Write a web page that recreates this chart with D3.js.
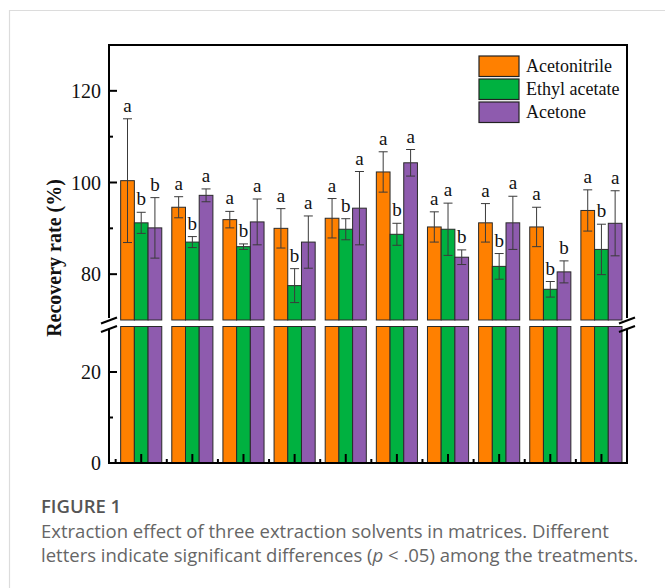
<!DOCTYPE html>
<html>
<head>
<meta charset="utf-8">
<script src="https://cdn.jsdelivr.net/npm/d3@7"></script>
<style>
  html, body { margin: 0; padding: 0; background: #fff; }
  svg { display: block; }
</style>
</head>
<body>
<svg id="chart" width="665" height="588"></svg>
<script>
// ---- data ----
const groups = [1, 2, 3, 4, 5, 6, 7, 8, 9, 10];
const seriesNames = ["Acetonitrile", "Ethyl acetate", "Acetone"];
const acetonitrile    = [100.4, 94.6, 91.9, 90.0, 92.2, 102.3, 90.3, 91.2, 90.3, 93.9];
const acetonitrileErr = [13.5, 2.3, 1.8, 4.3, 4.3, 4.4, 3.3, 4.2, 4.3, 4.5];
const ethylAcetate    = [91.2, 87.0, 86.0, 77.5, 89.8, 88.7, 89.8, 81.7, 76.7, 85.4];
const ethylAcetateErr = [2.3, 1.2, 0.6, 3.7, 2.3, 2.4, 5.7, 2.8, 1.7, 5.5];
const acetone         = [90.1, 97.2, 91.4, 87.0, 94.4, 104.3, 83.7, 91.2, 80.5, 91.1];
const acetoneErr      = [6.6, 1.4, 5.0, 5.7, 8.0, 2.9, 1.6, 5.8, 2.4, 7.1];
const acetonitrileLetters = ["a","a","a","a","a","a","a","a","a","a"];
const ethylAcetateLetters = ["b","b","b","b","b","b","a","b","b","b"];
const acetoneLetters      = ["b","a","a","a","a","a","b","a","b","a"];
const upperTicks = [80, 100, 120];
const upperMinor = [90, 110];
const lowerTicks = [0, 20];
const lowerMinor = [10];
const colors = ["#FF8000", "#00B140", "#8E5BAE"];

(function () {
const values = [acetonitrile, ethylAcetate, acetone];
const errs = [acetonitrileErr, ethylAcetateErr, acetoneErr];
const letters = [acetonitrileLetters, ethylAcetateLetters, acetoneLetters];

const svg = d3.select("#chart");
const serif = "'Liberation Serif', 'Times New Roman', serif";

// card border
svg.append("path").attr("d", "M9.5,588 V10.5 H665")
  .attr("fill", "none").attr("stroke", "#dcdcdc").attr("stroke-width", 1.2);

// scales
const pL = 109, pR = 627, pT = 45, pB = 463;
const x = d3.scaleLinear().domain([0.37, 10.5]).range([pL, pR]);
const yU = d3.scaleLinear().domain([70, 130]).range([320, pT]);
const yL = d3.scaleLinear().domain([0, 30]).range([pB, 326.5]);
const bw = x(1.268) - x(1);

// bars
const g = svg.append("g");
values.forEach((vals, s) => {
  const off = (s - 1) * bw;
  const rows = groups.map((gr, i) => ({ gr, v: vals[i], e: errs[s][i], l: letters[s][i] }));
  g.selectAll(null).data(rows).enter().append("rect")
    .attr("x", d => x(d.gr) + off - bw / 2)
    .attr("width", bw)
    .attr("y", yL(30))
    .attr("height", yL(0) - yL(30))
    .attr("fill", colors[s]).attr("stroke", "#2a2a2a").attr("stroke-width", 1);
  g.selectAll(null).data(rows).enter().append("rect")
    .attr("x", d => x(d.gr) + off - bw / 2)
    .attr("width", bw)
    .attr("y", d => yU(d.v))
    .attr("height", d => yU(70) - yU(d.v))
    .attr("fill", colors[s]).attr("stroke", "#2a2a2a").attr("stroke-width", 1);
  const eb = g.selectAll(null).data(rows).enter().append("g")
    .attr("stroke", "#3a3a3a").attr("stroke-width", 1);
  eb.append("line")
    .attr("x1", d => x(d.gr) + off).attr("x2", d => x(d.gr) + off)
    .attr("y1", d => yU(d.v + d.e)).attr("y2", d => yU(d.v - d.e));
  eb.append("line")
    .attr("x1", d => x(d.gr) + off - 4.5).attr("x2", d => x(d.gr) + off + 4.5)
    .attr("y1", d => yU(d.v + d.e)).attr("y2", d => yU(d.v + d.e));
  eb.append("line")
    .attr("x1", d => x(d.gr) + off - 4.5).attr("x2", d => x(d.gr) + off + 4.5)
    .attr("y1", d => yU(d.v - d.e)).attr("y2", d => yU(d.v - d.e));
  g.selectAll(null).data(rows).enter().append("text")
    .attr("x", d => x(d.gr) + off)
    .attr("y", d => yU(d.v + d.e) - 7)
    .attr("text-anchor", "middle")
    .attr("font-family", serif).attr("font-size", 19).attr("fill", "#111")
    .text(d => d.l);
});

// frame / axes
const ax = svg.append("g").attr("stroke", "#000").attr("stroke-width", 2).attr("fill", "none");
ax.append("line").attr("x1", pL).attr("x2", pR).attr("y1", pT).attr("y2", pT);
ax.append("line").attr("x1", pL).attr("x2", pR + 1).attr("y1", pB).attr("y2", pB);
[pL, pR].forEach(xx => {
  ax.append("line").attr("x1", xx).attr("x2", xx).attr("y1", pT - 1).attr("y2", yU(70) - 2);
  ax.append("line").attr("x1", xx).attr("x2", xx).attr("y1", yL(30) + 2).attr("y2", pB + 1);
  [yU(70) + 0.5, yL(30) + 2.5].forEach(yy => {
    ax.append("line").attr("x1", xx - 8).attr("x2", xx + 8)
      .attr("y1", yy + 3).attr("y2", yy - 3);
  });
});

upperTicks.forEach(v => ax.append("line").attr("x1", pL).attr("x2", pL + 8).attr("y1", yU(v)).attr("y2", yU(v)));
upperMinor.forEach(v => ax.append("line").attr("x1", pL).attr("x2", pL + 4).attr("y1", yU(v)).attr("y2", yU(v)));
lowerTicks.forEach(v => ax.append("line").attr("x1", pL).attr("x2", pL + 8).attr("y1", yL(v)).attr("y2", yL(v)));
lowerMinor.forEach(v => ax.append("line").attr("x1", pL).attr("x2", pL + 4).attr("y1", yL(v)).attr("y2", yL(v)));
groups.forEach(gr => {
  ax.append("line").attr("x1", x(gr)).attr("x2", x(gr)).attr("y1", pB).attr("y2", pB - 9);
  ax.append("line").attr("x1", x(gr - 0.5)).attr("x2", x(gr - 0.5)).attr("y1", pB).attr("y2", pB - 4);
});

const lab = svg.append("g").attr("font-family", serif).attr("font-size", 20).attr("fill", "#111")
  .attr("text-anchor", "end");
upperTicks.forEach(v => lab.append("text").attr("x", pL - 8).attr("y", yU(v) + 7).text(v));
lowerTicks.forEach(v => lab.append("text").attr("x", pL - 8).attr("y", yL(v) + 7).text(v));

svg.append("text")
  .attr("transform", `translate(61,258) rotate(-90)`)
  .attr("text-anchor", "middle")
  .attr("font-family", serif).attr("font-size", 20).attr("font-weight", "bold").attr("fill", "#111")
  .text("Recovery rate (%)");

const lg = svg.append("g");
seriesNames.forEach((name, i) => {
  const yy = 56 + i * 23;
  lg.append("rect").attr("x", 479).attr("y", yy).attr("width", 40).attr("height", 20.5)
    .attr("fill", colors[i]).attr("stroke", "#222").attr("stroke-width", 1.2);
  lg.append("text").attr("x", 526).attr("y", yy + 16)
    .attr("font-family", serif).attr("font-size", 18).attr("fill", "#111").text(name);
});

const sans = "'Open Sans', 'Noto Sans', sans-serif";
svg.append("text").attr("x", 41).attr("y", 513)
  .attr("font-family", sans).attr("font-size", 18.5).attr("font-weight", 600).attr("fill", "#555")
  .text("FIGURE 1");
svg.append("text").attr("x", 41).attr("y", 538)
  .attr("font-family", sans).attr("font-size", 18.5).attr("fill", "#666")
  .text("Extraction effect of three extraction solvents in matrices. Different");
const l3 = svg.append("text").attr("x", 41).attr("y", 562)
  .attr("font-family", sans).attr("font-size", 18.5).attr("fill", "#666");
l3.append("tspan").text("letters indicate significant differences (");
l3.append("tspan").attr("font-style", "italic").text("p");
l3.append("tspan").text(" < .05) among the treatments.");
})();
</script>
</body>
</html>
